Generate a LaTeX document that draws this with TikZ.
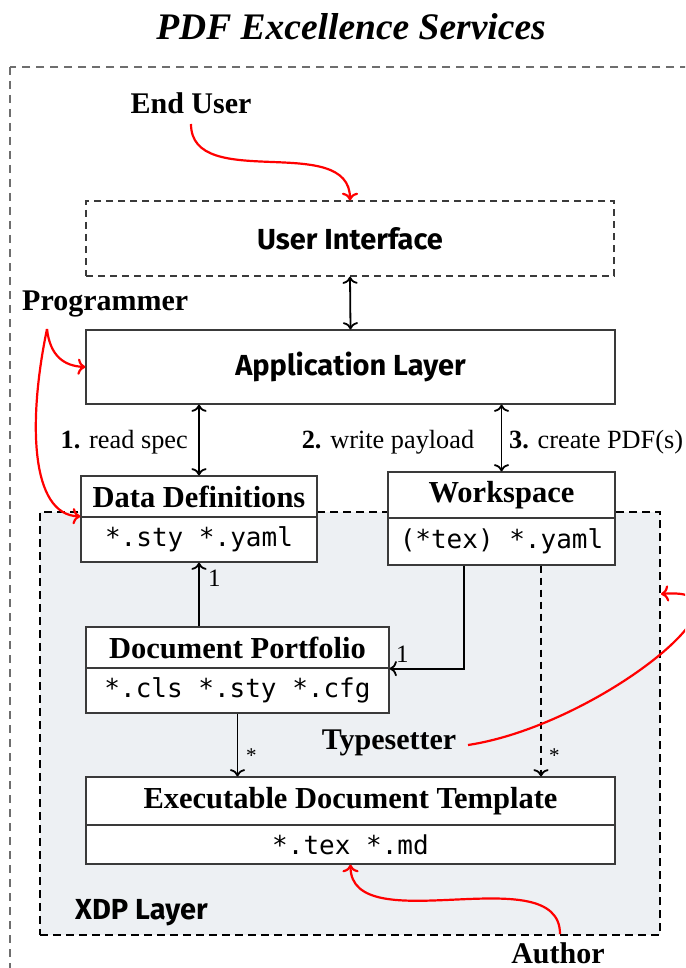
\documentclass[tikz,border=0pt]{standalone}
\usepackage{fontspec}
\setmainfont{Liberation Serif}
\setmonofont{DejaVu Sans Mono}
\newfontfamily\boxsans{Fira Sans}
\usetikzlibrary{arrows.meta,calc}
\definecolor{xdpfill}{HTML}{EDF0F3}
\definecolor{boxline}{HTML}{3A3A3A}
\definecolor{framegray}{HTML}{6E6E6E}
\begin{document}
\begin{tikzpicture}[x=1pt,y=-1pt,
  headbox/.style={draw=boxline, line width=1.2pt, fill=white, inner sep=0pt,
    font=\fontsize{30.5}{33}\selectfont\bfseries},
  bodybox/.style={draw=boxline, line width=1.2pt, fill=white, inner sep=0pt,
    font=\fontsize{26}{30}\ttfamily},
  sansbox/.style={draw=boxline, line width=1.2pt, fill=white, inner sep=0pt,
    font=\fontsize{29}{32}\boxsans\bfseries},
  actor/.style={font=\fontsize{30}{33}\selectfont\bfseries, inner sep=0pt},
  lab/.style={font=\fontsize{26.3}{30}\selectfont, inner sep=0pt},
  mult/.style={font=\fontsize{25}{28}\selectfont, inner sep=0pt},
  star/.style={font=\fontsize{21}{24}\selectfont, inner sep=0pt},
  conn/.style={line width=1.8pt, -{To[scale=1.3]}},
  biconn/.style={line width=1.8pt, {To[scale=1.3]}-{To[scale=1.3]}},
  redconn/.style={red, line width=2.2pt, -{To[scale=1.2]}},
]
\useasboundingbox (0,0) rectangle (685,968);
\clip (0,0) rectangle (685,968);
\fill[white] (0,0) rectangle (685,968);

% title
\node (title) at (351,27) {\fontsize{37.5}{40}\selectfont\bfseries\itshape PDF Excellence Services};

% outer frame
\draw[framegray, line width=1.2pt, dash pattern=on 8pt off 6pt] (10,67) rectangle (740,1020);

% XDP layer
\node[draw=black, fill=xdpfill, line width=2pt, dash pattern=on 8pt off 5pt,
  minimum width=620pt, minimum height=423pt, inner sep=0pt] (xdp) at (350,723.5) {};
\node[font=\fontsize{29}{32}\boxsans\bfseries, anchor=west, inner sep=0pt] (xdplab) at (75,913) {XDP Layer};

% boxes
\node[sansbox, dashed, dash pattern=on 7pt off 5pt, minimum width=528pt, minimum height=75pt] (ui) at (350,238.5) {User Interface};
\node[sansbox, minimum width=529pt, minimum height=74pt] (app) at (350.5,367) {Application Layer};

\node[headbox, minimum width=236pt, minimum height=41pt] (ddh) at (199,496.5) {Data Definitions};
\node[bodybox, minimum width=236pt, minimum height=45pt] (ddb) at (199,539.5) {*.sty *.yaml};

\node[headbox, minimum width=227pt, minimum height=46pt] (wsh) at (501.5,495) {Workspace};
\node[bodybox, minimum width=227pt, minimum height=47pt] (wsb) at (501.5,541.5) {(*tex) *.yaml};

\node[headbox, minimum width=303pt, minimum height=41pt] (dph) at (237.5,647.5) {Document Portfolio};
\node[bodybox, minimum width=303pt, minimum height=45pt] (dpb) at (237.5,690.5) {*.cls *.sty *.cfg};

\node[headbox, minimum width=529pt, minimum height=48pt] (edth) at (350.5,801) {Executable Document Template};
\node[bodybox, minimum width=529pt, minimum height=39pt] (edtb) at (350.5,844.5) {*.tex *.md};

% actors
\node[actor] (enduser) at (191,103) {End User};
\node[actor, anchor=west] (prog) at (22,304) {Programmer};
\node[actor] (typeset) at (389,743) {Typesetter};
\node[actor] (author) at (558,953) {Author};

% labels
\node[lab, anchor=east] (l1) at (188,442) {\textbf{1.} read spec};
\node[lab] (l2) at (388,442) {\textbf{2.} write payload};
\node[lab, anchor=west] (l3) at (509,442) {\textbf{3.} create PDF(s)};

% black connectors
\draw[biconn] (ui.south) -- (app.north);
\draw[biconn] (app.south -| ddh.north) -- (ddh.north);
\draw[biconn] (app.south -| wsh.north) -- (wsh.north);
\draw[conn] (dph.north -| ddb.south) -- (ddb.south);
\node[mult, anchor=west] (m1) at (208,578) {1};
\coordinate (wsl) at ([xshift=-37.5pt]wsb.south);
\coordinate (wsr) at ([xshift=39.5pt]wsb.south);
\draw[conn] (wsl) |- (dph.south east);
\node[mult, anchor=west] (m2) at (396,654) {1};
\draw[conn] (dpb.south) -- (dpb.south |- edth.north);
\node[star, anchor=west] (m3) at (246,756) {*};
\draw[conn, dash pattern=on 7pt off 5pt] (wsr) -- (wsr |- edth.north);
\node[star, anchor=west] (m4) at (549,756) {*};

% red actor connectors
\coordinate (eus) at (191,124);
\draw[redconn] (eus) to[out=-90,in=90] (ui.north);
\coordinate (ps) at (47,329);
\draw[redconn] (ps) .. controls (50,356) and (64,366) .. (app.west);
\draw[redconn] (ps) .. controls (28,420) and (30,515) .. (ddb.north west);
\coordinate (tss) at (468,745);
\coordinate (tse) at (661,594);
\draw[redconn] (tss) .. controls (600,725) and (770,585) .. (tse);
\coordinate (aus) at (560,934);
\draw[redconn] (aus) to[out=90,in=-90,looseness=0.9] (edtb.south);
\end{tikzpicture}
\end{document}
